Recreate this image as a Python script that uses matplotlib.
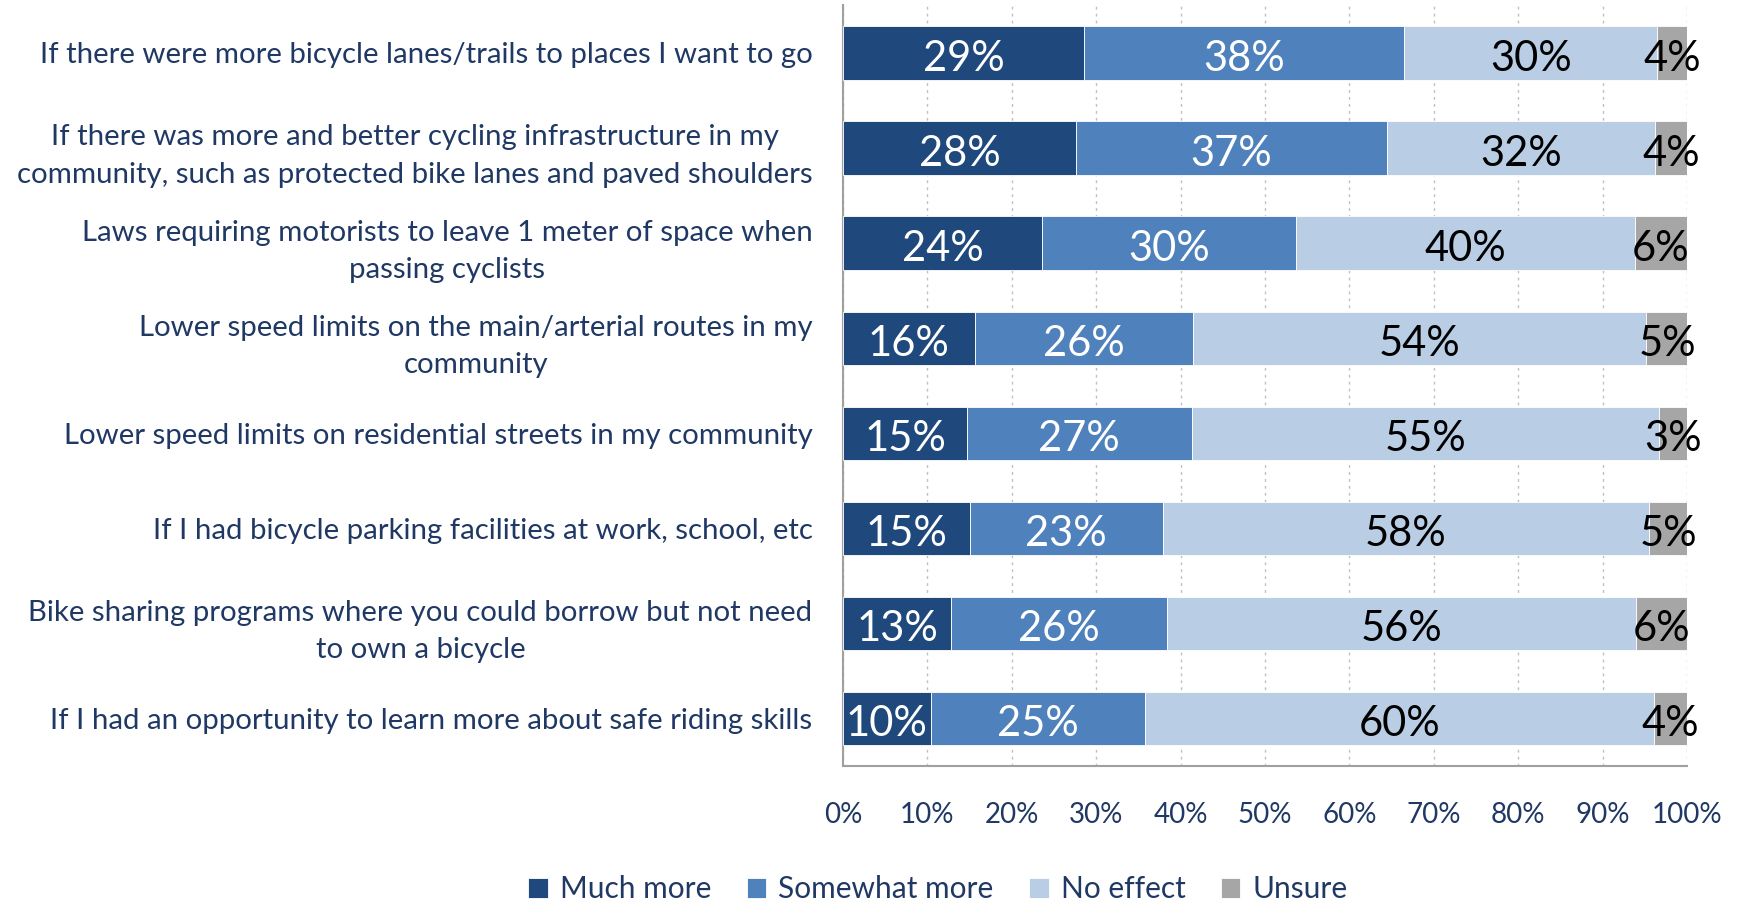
import matplotlib
matplotlib.use('Agg')
import matplotlib.pyplot as plt
from matplotlib.ticker import MultipleLocator, FuncFormatter

plt.rcParams['font.family'] = ['Lato', 'DejaVu Sans']

# survey responses, % per statement (top to bottom)
categories = [
    "If there were more bicycle lanes/trails to places I want to go",
    "If there was more and better cycling infrastructure in my\ncommunity, such as protected bike lanes and paved shoulders",
    "Laws requiring motorists to leave 1 meter of space when\npassing cyclists",
    "Lower speed limits on the main/arterial routes in my\ncommunity",
    "Lower speed limits on residential streets in my community",
    "If I had bicycle parking facilities at work, school, etc",
    "Bike sharing programs where you could borrow but not need\nto own a bicycle",
    "If I had an opportunity to learn more about safe riding skills",
]
much_more = [28.6, 27.6, 23.6, 15.6, 14.7, 15.0, 12.8, 10.4]
somewhat_more = [37.9, 36.8, 30.1, 25.9, 26.6, 22.9, 25.6, 25.4]
no_effect = [30.0, 31.8, 40.1, 53.7, 55.4, 57.6, 55.6, 60.3]
unsure = [3.6, 3.8, 6.2, 4.9, 3.3, 4.6, 6.1, 3.9]

series = ["Much more", "Somewhat more", "No effect", "Unsure"]
colors = ["#1F497D", "#4F81BD", "#B9CDE5", "#A6A6A6"]
text_colors = ["white", "white", "black", "black"]
navy = "#1F3864"

fig = plt.figure(figsize=(17.4, 9), dpi=100)
ax = fig.add_axes([0.4845, 0.149, 0.485, 0.845])

ypos = list(range(len(categories)))
left = [0.0] * len(categories)
for name, vals, col, tc in zip(series, [much_more, somewhat_more, no_effect, unsure], colors, text_colors):
    bars = ax.barh(ypos, vals, left=left, height=0.56, color=col, label=name,
                   edgecolor='white', linewidth=0.6, zorder=3)
    for b, v in zip(bars, vals):
        # nudge down a bit so the digits sit in the middle of the bar
        ax.text(b.get_x() + b.get_width() / 2, b.get_y() + b.get_height() / 2 + 0.06,
                f"{round(v)}%", ha='center', va='center', color=tc,
                fontsize=30, zorder=4)
    left = [l + v for l, v in zip(left, vals)]

ax.set_xlim(0, 100)
ax.set_ylim(len(categories) - 0.5, -0.5)
ax.xaxis.set_major_locator(MultipleLocator(10))
ax.xaxis.set_major_formatter(FuncFormatter(lambda x, p: f"{x:.0f}%"))
ax.set_yticks(ypos)
ax.set_yticklabels(categories, fontsize=21.2, color=navy, multialignment='center',
                   linespacing=1.55)
ax.tick_params(axis='y', length=0, pad=22)
ax.tick_params(axis='x', length=0, pad=26, labelsize=20, labelcolor=navy)

ax.grid(axis='x', color='#BFBFBF', linestyle=(0, (2, 3)), linewidth=1, zorder=0)
for s in ['top', 'right']:
    ax.spines[s].set_visible(False)
for s in ['left', 'bottom']:
    ax.spines[s].set_color('#A0A0A0')
    ax.spines[s].set_linewidth(1.5)

leg = fig.legend(loc='center', bbox_to_anchor=(0.539, 0.012), ncol=4, frameon=False,
                 fontsize=21.5, handlelength=0.65, handleheight=0.65, columnspacing=1.2,
                 handletextpad=0.4)
for t in leg.get_texts():
    t.set_color(navy)

fig.savefig('out.png', dpi=100)
